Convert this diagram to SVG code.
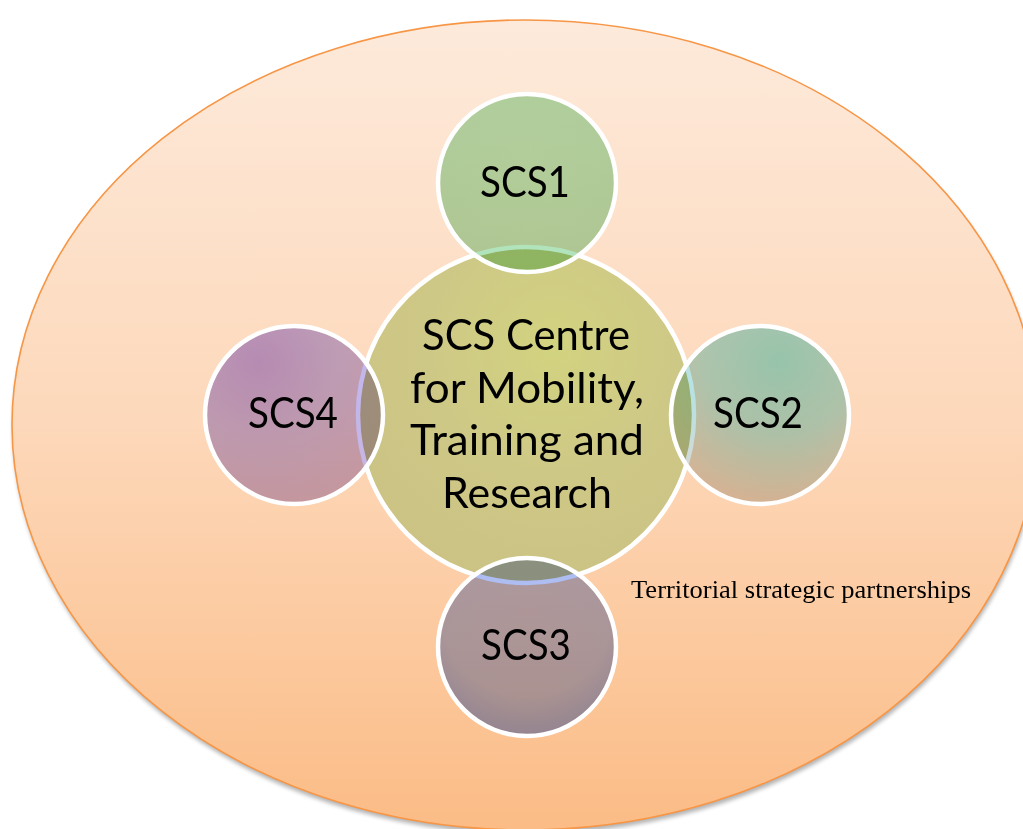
<svg xmlns="http://www.w3.org/2000/svg" width="1023" height="829" viewBox="0 0 1023 829">
  <style>
    .sat-fill { mix-blend-mode: multiply; stroke: none; }
    .ring { fill: none; stroke: #ffffff; stroke-width: 4.5; }
    .lbl { font-family: Lato, "Open Sans", "Liberation Sans", sans-serif; font-size: 43px; fill: #000000; text-anchor: middle; }
    .note { font-family: "Liberation Serif", "Times New Roman", serif; font-size: 25.5px; fill: #000000; }
  </style>
  <defs>
    <linearGradient id="gOuter" x1="0" y1="0" x2="0" y2="1">
      <stop offset="0" stop-color="#fdeadb"/>
      <stop offset="0.5" stop-color="#fdd8ba"/>
      <stop offset="1" stop-color="#fbbc86"/>
    </linearGradient>
    <radialGradient id="gCentre" cx="0.58" cy="0.3" r="0.75">
      <stop offset="0" stop-color="#d2d380"/>
      <stop offset="0.5" stop-color="#cec886"/>
      <stop offset="1" stop-color="#cbc284"/>
    </radialGradient>
    <radialGradient id="g1" cx="0.5" cy="0.35" r="0.7">
      <stop offset="0" stop-color="#b4e6bd"/>
      <stop offset="1" stop-color="#b0e2bb"/>
    </radialGradient>
    <radialGradient id="g2" cx="0.6" cy="0.2" r="0.85">
      <stop offset="0" stop-color="#98e4e4"/>
      <stop offset="0.5" stop-color="#b0e4e6"/>
      <stop offset="1" stop-color="#dcd6d2"/>
    </radialGradient>
    <radialGradient id="g3" cx="0.5" cy="0.3" r="0.8">
      <stop offset="0" stop-color="#b0bdf0"/>
      <stop offset="0.6" stop-color="#acbdf4"/>
      <stop offset="1" stop-color="#8ca6ff"/>
    </radialGradient>
    <radialGradient id="g4" cx="0.3" cy="0.2" r="0.9">
      <stop offset="0" stop-color="#b8a2ee"/>
      <stop offset="0.5" stop-color="#c0b6f0"/>
      <stop offset="1" stop-color="#c8b6e2"/>
    </radialGradient>
    <filter id="soft" x="-5%" y="-5%" width="110%" height="110%">
      <feGaussianBlur stdDeviation="2"/>
    </filter>
  </defs>

  <g id="partnerships">
    <ellipse cx="526" cy="429" rx="513" ry="405" fill="#000000" opacity="0.3" filter="url(#soft)"/>
    <ellipse cx="525" cy="425" rx="513" ry="405" fill="url(#gOuter)" stroke="#f79646" stroke-width="1.6"/>
    <text class="note" x="631" y="598" textLength="340" lengthAdjust="spacingAndGlyphs">Territorial strategic partnerships</text>
  </g>

  <g id="connectors"></g>

  <g id="centre">
    <circle cx="526" cy="415" r="168" fill="url(#gCentre)"/>
    <circle class="ring" cx="526" cy="415" r="168"/>
    <text class="lbl" x="526" y="350" textLength="208" lengthAdjust="spacingAndGlyphs">SCS Centre</text>
    <text class="lbl" x="527" y="402.5" textLength="234" lengthAdjust="spacingAndGlyphs">for Mobility,</text>
    <text class="lbl" x="527" y="455" textLength="234" lengthAdjust="spacingAndGlyphs">Training and</text>
    <text class="lbl" x="527" y="507.5" textLength="170" lengthAdjust="spacingAndGlyphs">Research</text>
  </g>

  <g id="scs1">
    <circle class="sat-fill" cx="527" cy="183" r="89" fill="url(#g1)"/>
    <circle class="ring" cx="527" cy="183" r="89"/>
    <text class="lbl" x="525" y="197" textLength="90" lengthAdjust="spacingAndGlyphs">SCS1</text>
  </g>

  <g id="scs2">
    <circle class="sat-fill" cx="760" cy="415" r="89" fill="url(#g2)"/>
    <circle class="ring" cx="760" cy="415" r="89"/>
    <text class="lbl" x="758" y="428" textLength="90" lengthAdjust="spacingAndGlyphs">SCS2</text>
  </g>

  <g id="scs3">
    <circle class="sat-fill" cx="527" cy="647" r="89" fill="url(#g3)"/>
    <circle class="ring" cx="527" cy="647" r="89"/>
    <text class="lbl" x="526" y="660" textLength="90" lengthAdjust="spacingAndGlyphs">SCS3</text>
  </g>

  <g id="scs4">
    <circle class="sat-fill" cx="294" cy="415" r="89" fill="url(#g4)"/>
    <circle class="ring" cx="294" cy="415" r="89"/>
    <text class="lbl" x="293" y="428" textLength="90" lengthAdjust="spacingAndGlyphs">SCS4</text>
  </g>
</svg>
